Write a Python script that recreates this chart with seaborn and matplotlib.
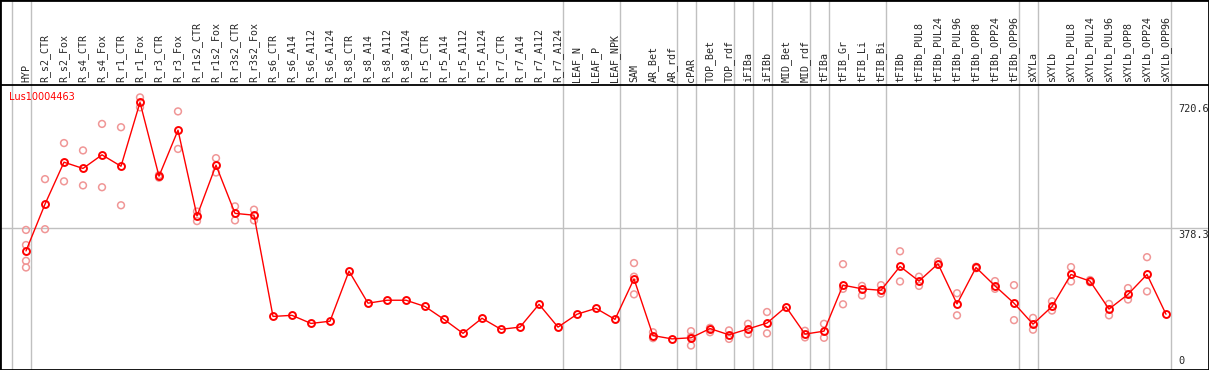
import numpy as np
import pandas as pd
import matplotlib
matplotlib.use('Agg')
import matplotlib.pyplot as plt
import seaborn as sns

gene = "Lus10004463"

samples = ["HYP", "R_s2_CTR", "R_s2_Fox", "R_s4_CTR", "R_s4_Fox", "R_r1_CTR", "R_r1_Fox",
           "R_r3_CTR", "R_r3_Fox", "R_r1s2_CTR", "R_r1s2_Fox", "R_r3s2_CTR", "R_r3s2_Fox",
           "R_s6_CTR", "R_s6_A14", "R_s6_A112", "R_s6_A124", "R_s8_CTR", "R_s8_A14",
           "R_s8_A112", "R_s8_A124", "R_r5_CTR", "R_r5_A14", "R_r5_A112", "R_r5_A124",
           "R_r7_CTR", "R_r7_A14", "R_r7_A112", "R_r7_A124", "LEAF_N", "LEAF_P", "LEAF_NPK",
           "SAM", "AR_Bet", "AR_rdf", "cPAR", "TOP_Bet", "TOP_rdf", "iFIBa", "iFIBb",
           "MID_Bet", "MID_rdf", "tFIBa", "tFIB_Gr", "tFIB_Li", "tFIB_Bi", "tFIBb",
           "tFIBb_PUL8", "tFIBb_PUL24", "tFIBb_PUL96", "tFIBb_OPP8", "tFIBb_OPP24",
           "tFIBb_OPP96", "sXYLa", "sXYLb", "sXYLb_PUL8", "sXYLb_PUL24", "sXYLb_PUL96",
           "sXYLb_OPP8", "sXYLb_OPP24", "sXYLb_OPP96"]

means = [317, 444, 558, 541, 578, 547, 720.6, 520, 645, 412, 550, 419, 414,
         139, 142, 120, 126, 262, 175, 183, 183, 166, 131, 93, 134, 104, 110, 172, 110,
         145, 161, 131,
         241, 87, 78, 81, 106, 89, 105, 121, 165, 91, 99, 224, 214, 210, 275,
         235, 282, 173, 272, 222, 175, 118, 166, 253, 235, 159, 199, 253, 145]

replicates = [[374, 333, 290, 272], [512, 376], [610, 506], [590, 495], [662, 490],
              [653, 441], [734, 707], [523, 516], [696, 594], [424, 398], [569, 530],
              [438, 400], [429, 400],
              [], [], [], [], [], [], [], [], [], [], [], [], [], [], [], [],
              [], [], [],
              [284, 247, 199], [96, 80], [], [99, 60, 84], [108, 96], [101, 78],
              [119, 91], [151, 93], [], [100, 82], [119, 81], [281, 214, 172],
              [222, 196], [224, 201], [316, 234],
              [247, 222], [288, 279], [202, 142], [274, 270], [235, 214], [224, 129],
              [135, 103], [180, 155], [273, 234], [238, 232], [173, 142], [216, 185],
              [300, 207], []]

# group separators sit after these sample counts
group_ends = [0, 1, 29, 32, 35, 36, 38, 39, 40, 42, 43, 46, 53, 54, 61]
scale_marks = [720.6, 378.3, 0]

mean_df = pd.DataFrame({"pos": np.arange(len(samples)), "value": means})
rep_df = pd.DataFrame([(i, v) for i, reps in enumerate(replicates) for v in reps],
                      columns=["pos", "value"])

sns.set_style("white")
plt.rcParams["font.family"] = ["DejaVu Sans Mono"]

fig = plt.figure(figsize=(12.09, 3.70), dpi=100)
ax = fig.add_axes([0, 0, 1, 1])

# pixel layout: column step 19px, first column at 26px, value 0 at 367.6px
px_per_val = 0.3681
ax.set_xlim(-26 / 19, (1209 - 26) / 19)
ax.set_ylim((367.6 - 370) / px_per_val, 367.6 / px_per_val)
header_y = (367.6 - 85) / px_per_val

ax.axhline(378.3, color="#c0c0c0", lw=1, zorder=1)
for g in group_ends:
    ax.axvline(g - 1 + 0.25, color="#c0c0c0", lw=1, zorder=1)
ax.axhline(header_y, color="black", lw=1.3, zorder=2)

sns.scatterplot(data=rep_df, x="pos", y="value", ax=ax, marker="o", s=24,
                facecolor="none", edgecolor="#f09696", linewidth=1.1, zorder=3)
sns.lineplot(data=mean_df, x="pos", y="value", ax=ax, color="red", lw=1,
             marker="o", markersize=5, markerfacecolor="none",
             markeredgecolor="red", markeredgewidth=1.4, zorder=4)

for i, name in enumerate(samples):
    ax.annotate(name, (i, header_y), xytext=(0, 2), textcoords="offset points",
                rotation=90, ha="center", va="bottom", fontsize=7.2)

for v in scale_marks:
    ax.annotate(f"{v:g}", (60.63, v), xytext=(0, -1 if v > 0 else 1),
                textcoords="offset points", ha="left",
                va="top" if v > 0 else "bottom", fontsize=7.4)

ax.text(0.0075, 0.739, gene, transform=ax.transAxes, color="red",
        fontsize=7, va="center", ha="left", family="DejaVu Sans")

ax.set_xlabel("")
ax.set_ylabel("")
ax.set_xticks([])
ax.set_yticks([])
for s in ax.spines.values():
    s.set_visible(True)
    s.set_color("black")
    s.set_linewidth(2)

fig.savefig("out.png", dpi=100)
